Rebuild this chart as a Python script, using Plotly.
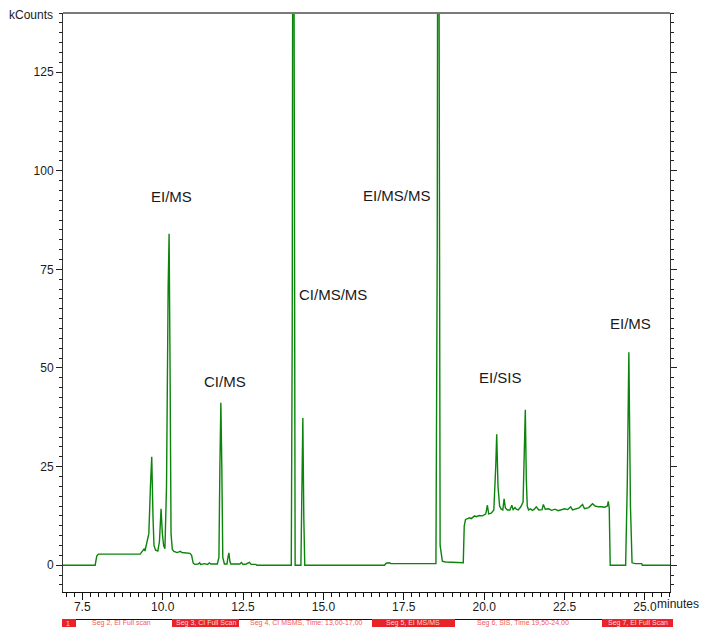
import plotly.graph_objects as go

# ---- data ----
time_min = [
    6.90, 7.90, 7.95, 8.00, 9.30, 9.38, 9.42, 9.45, 9.50, 9.54, 9.57, 9.62, 9.66, 9.70, 9.73,
    9.78, 9.85, 9.90, 9.95, 9.99, 10.03, 10.07, 10.12, 10.17, 10.20, 10.23, 10.26, 10.30,
    10.35, 10.45, 10.50, 10.55, 10.60, 10.85, 10.90, 10.95, 11.00, 11.10, 11.15, 11.18,
    11.30, 11.40, 11.45, 11.50, 11.70, 11.75, 11.78, 11.81, 11.84, 11.87, 11.92, 12.00,
    12.03, 12.06, 12.09, 12.12, 12.40, 12.45, 12.50, 12.60, 12.70, 12.75, 12.90, 12.93,
    14.00, 14.03, 14.06, 14.09, 14.12, 14.30, 14.33, 14.36, 14.39, 14.42, 16.90, 16.95,
    17.05, 17.10, 18.50, 18.54, 18.57, 18.60, 18.63, 18.70, 18.80, 19.35, 19.38, 19.42,
    19.55, 19.60, 19.70, 19.75, 19.85, 19.95, 20.05, 20.10, 20.14, 20.22, 20.30, 20.36,
    20.39, 20.43, 20.48, 20.53, 20.58, 20.62, 20.66, 20.72, 20.80, 20.86, 20.90, 20.96,
    21.00, 21.06, 21.14, 21.21, 21.28, 21.31, 21.34, 21.38, 21.44, 21.50, 21.56, 21.62,
    21.70, 21.80, 21.84, 21.90, 22.00, 22.10, 22.20, 22.30, 22.40, 22.50, 22.60, 22.69,
    22.75, 22.85, 22.95, 23.06, 23.12, 23.25, 23.37, 23.45, 23.55, 23.65, 23.75, 23.83,
    23.86, 23.89, 23.92, 24.40, 24.45, 24.50, 24.55, 24.60, 24.70, 24.90, 24.92, 25.78,
]
kcounts = [
    0.0, 0.0, 2.3, 2.8, 2.8, 3.5, 4.1, 3.6, 5.5, 7.5, 8.0, 20.0, 27.5, 12.0, 5.0,
    3.8, 3.6, 6.0, 14.3, 8.0, 5.0, 4.2, 20.0, 70.0, 84.0, 50.0, 8.0, 4.0,
    3.5, 3.2, 3.4, 3.5, 3.2, 3.0, 2.5, 0.5, 0.2, 0.3, 0.6, 0.2,
    0.4, 0.2, 0.6, 0.3, 0.3, 2.0, 25.0, 41.2, 25.0, 2.0, 0.3, 0.3,
    2.0, 3.1, 1.0, 0.3, 0.3, 0.7, 0.2, 0.3, 0.7, 0.2, 0.2, 0.0,
    0.0, 60.0, 260.0, 60.0, 0.0, 0.0, 15.0, 37.3, 12.0, 0.0, 0.0, 0.5,
    0.6, 0.4, 0.4, 80.0, 260.0, 80.0, 5.0, 1.0, 0.8, 0.6, 10.0, 11.6,
    12.0, 11.8, 12.5, 12.3, 12.6, 12.5, 13.0, 15.2, 13.0, 13.2, 14.0, 25.0,
    33.2, 20.0, 15.0, 14.2, 14.0, 16.8, 14.5, 14.0, 14.0, 15.2, 14.1, 14.6,
    14.2, 14.0, 14.8, 16.0, 39.4, 22.0, 15.0, 14.0, 14.3, 13.9, 14.2, 14.8,
    14.0, 14.1, 15.4, 14.2, 14.3, 13.9, 14.2, 13.8, 14.1, 14.3, 14.1, 14.8,
    14.0, 14.3, 14.5, 15.4, 14.3, 14.6, 15.6, 15.0, 14.8, 14.8, 14.7, 15.0,
    16.2, 14.5, 0.0, 0.0, 20.0, 54.0, 15.0, 0.6, 0.4, 0.4, 0.0, 0.0,
]

peak_labels = ["EI/MS", "CI/MS", "CI/MS/MS", "EI/MS/MS", "EI/SIS", "EI/MS"]
label_time = [10.26, 11.94, 15.30, 17.30, 20.52, 24.55]
label_kcounts = [93.5, 46.6, 68.7, 93.8, 47.6, 61.2]

x_ticks = [7.5, 10.0, 12.5, 15.0, 17.5, 20.0, 22.5, 25.0]
y_ticks = [0, 25, 50, 75, 100, 125]

segment_texts = ["1", "Seg 2, EI Full scan", "Seg 3, CI Full Scan",
                 "Seg 4, CI MSMS, Time: 13,00-17,00", "Seg 5, EI MS/MS",
                 "Seg 6, SIS, Time 19,50-24,00", "Seg 7, EI Full Scan"]
segment_filled = [True, False, True, False, True, False, True]

# ---- layout geometry helpers (pixels -> paper) ----
W, H = 703, 627
ML, MR, MT, MB = 63, 33, 13, 35
PW, PH = W - ML - MR, H - MT - MB


def px_x(px):
    return (px - ML) / PW


def px_y(py):
    return (H - MB - py) / PH


seg_box_px = [(62, 76), None, (172, 239), None, (372, 455), None, (602, 673)]
seg_text_px = [68.3, 121.7, 205.7, 306.7, 413.3, 523.3, 638.3]

GREEN = "#0b840b"
RED = "#e8232a"
FONT = "Arial, Liberation Sans, sans-serif"

fig = go.Figure()
fig.add_trace(go.Scatter(x=time_min, y=kcounts, mode="lines",
                         line=dict(color=GREEN, width=1.4), hoverinfo="skip",
                         showlegend=False))

annotations = []
for lab, tx, ty in zip(peak_labels, label_time, label_kcounts):
    annotations.append(dict(x=tx, y=ty, xref="x", yref="y", text=lab, showarrow=False,
                            font=dict(family=FONT, size=15, color="#1a1a1a"),
                            xanchor="center", yanchor="middle"))

annotations.append(dict(x=px_x(55), y=px_y(15), xref="paper", yref="paper",
                        text="kCounts", showarrow=False, xanchor="right", yanchor="middle",
                        font=dict(family=FONT, size=12, color="#1a1a1a")))
annotations.append(dict(x=px_x(655), y=px_y(604), xref="paper", yref="paper",
                        text="minutes", showarrow=False, xanchor="left", yanchor="middle",
                        font=dict(family=FONT, size=12, color="#1a1a1a")))

shapes = [
    # top border
    dict(type="line", xref="paper", yref="paper", x0=0, x1=1, y0=1, y1=1,
         line=dict(color="#7a7a7a", width=2)),
    # segment bar top line
    dict(type="line", xref="paper", yref="paper", x0=px_x(62), x1=px_x(673),
         y0=px_y(619.5), y1=px_y(619.5), line=dict(color="#111111", width=1)),
]
for box in seg_box_px:
    if box is None:
        continue
    shapes.append(dict(type="rect", xref="paper", yref="paper",
                       x0=px_x(box[0]), x1=px_x(box[1]), y0=px_y(619), y1=px_y(640),
                       fillcolor=RED, line=dict(width=0)))

for txt, cx, filled in zip(segment_texts, seg_text_px, segment_filled):
    annotations.append(dict(x=px_x(cx), y=px_y(623), xref="paper", yref="paper",
                            text=txt, showarrow=False, xanchor="center", yanchor="middle",
                            font=dict(family=FONT, size=7,
                                      color="#ffd6d6" if filled else "#f05a5a")))

fig.update_layout(
    width=W, height=H,
    margin=dict(l=ML, r=MR, t=MT, b=MB, pad=0),
    paper_bgcolor="white", plot_bgcolor="white",
    showlegend=False,
    font=dict(family=FONT, size=12, color="#1a1a1a"),
    annotations=annotations,
    shapes=shapes,
    xaxis=dict(range=[6.9, 25.78], tickvals=x_ticks, tickformat=".1f",
               showgrid=False, zeroline=False, showline=True, linecolor="#111111",
               linewidth=1, ticks="outside", ticklen=7, tickcolor="#111111",
               ticklabelstandoff=-3,
               tickfont=dict(family=FONT, size=12, color="#1a1a1a"),
               minor=dict(dtick=0.25, ticks="outside", ticklen=4, tickcolor="#111111",
                          showgrid=False),
               fixedrange=True),
    yaxis=dict(range=[-6.8, 140], tickvals=y_ticks, showgrid=False, zeroline=False,
               showline=True, linecolor="#333333", linewidth=1, mirror="ticks",
               ticks="outside", ticklen=6, tickcolor="#222222",
               tickfont=dict(family=FONT, size=12, color="#1a1a1a"),
               minor=dict(dtick=2.5, ticks="outside", ticklen=3, tickcolor="#222222",
                          showgrid=False),
               fixedrange=True),
)

fig.write_html("out.html", config={"displayModeBar": False},
               post_script="document.body.style.margin='0';document.body.style.padding='0';")
